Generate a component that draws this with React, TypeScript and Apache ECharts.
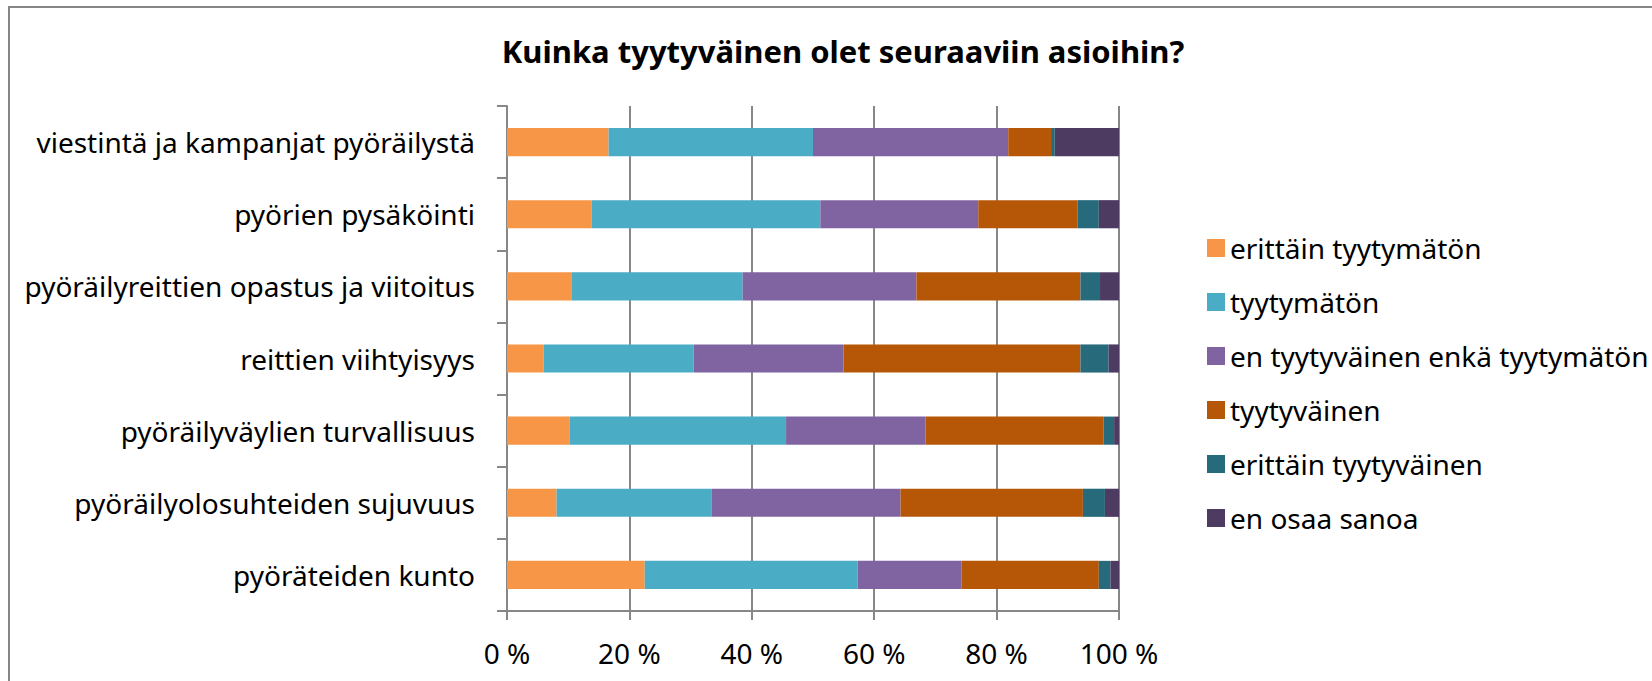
import React, { useEffect, useRef } from "react";
import * as echarts from "echarts";

const categories = [
  "viestintä ja kampanjat pyöräilystä",
  "pyörien pysäköinti",
  "pyöräilyreittien opastus ja viitoitus",
  "reittien viihtyisyys",
  "pyöräilyväylien turvallisuus",
  "pyöräilyolosuhteiden sujuvuus",
  "pyöräteiden kunto",
];

const seriesNames = [
  "erittäin tyytymätön",
  "tyytymätön",
  "en tyytyväinen enkä tyytymätön",
  "tyytyväinen",
  "erittäin tyytyväinen",
  "en osaa sanoa",
];

const erittainTyytymaton = [16.6, 13.8, 10.6, 6.0, 10.2, 8.1, 22.5];
const tyytymaton = [33.4, 37.4, 27.9, 24.5, 35.4, 25.3, 34.8];
const neutraali = [31.9, 25.8, 28.4, 24.5, 22.8, 30.9, 17.0];
const tyytyvainen = [7.0, 16.2, 26.8, 38.7, 29.1, 29.8, 22.4];
const erittainTyytyvainen = [0.6, 3.5, 3.2, 4.6, 1.7, 3.6, 1.9];
const enOsaaSanoa = [10.5, 3.3, 3.1, 1.7, 0.8, 2.3, 1.4];

const colors = ["#F79646", "#4BACC6", "#8064A2", "#B65708", "#276A7C", "#4D3B62"];

const FONT = "Noto Sans";

export default function App() {
  const ref = useRef<HTMLDivElement>(null);
  useEffect(() => {
    if (!ref.current) return;
    const chart = echarts.init(ref.current, undefined, { renderer: "svg" });
    const values = [
      erittainTyytymaton,
      tyytymaton,
      neutraali,
      tyytyvainen,
      erittainTyytyvainen,
      enOsaaSanoa,
    ];
    chart.setOption({
      animation: false,
      backgroundColor: "#ffffff",
      textStyle: { fontFamily: FONT },
      title: {
        text: "Kuinka tyytyväinen olet seuraaviin asioihin?",
        left: 838,
        top: 30,
        textAlign: "center",
        textStyle: { fontFamily: FONT, fontSize: 31, fontWeight: "bold", color: "#000" },
      },
      graphic: [
        {
          type: "rect",
          silent: true,
          z: -1,
          shape: { x: 9, y: 7, width: 1700, height: 720 },
          style: { fill: "transparent", stroke: "#868686", lineWidth: 2 },
        },
      ],
      legend: {
        orient: "vertical",
        left: 1202,
        top: 228,
        itemWidth: 18,
        itemHeight: 18,
        itemGap: 24,
        icon: "rect",
        data: seriesNames,
        textStyle: { fontFamily: FONT, fontSize: 28, color: "#000", lineHeight: 30 },
      },
      grid: { left: 507, right: 533, top: 106, bottom: 70, containLabel: false },
      xAxis: {
        type: "value",
        min: 0,
        max: 100,
        interval: 20,
        axisLine: { show: true, lineStyle: { color: "#878787", width: 2 } },
        axisTick: { show: true, length: 9, lineStyle: { color: "#878787", width: 2 } },
        splitLine: { show: true, lineStyle: { color: "#878787", width: 2 } },
        axisLabel: {
          formatter: (v: number) => `${v} %`,
          fontFamily: FONT,
          fontSize: 28,
          color: "#000",
          margin: 28,
        },
      },
      yAxis: {
        type: "category",
        inverse: true,
        data: categories,
        axisLine: { show: true, lineStyle: { color: "#878787", width: 2 } },
        axisTick: { show: true, length: 10, lineStyle: { color: "#878787", width: 2 } },
        axisLabel: { fontFamily: FONT, fontSize: 28, color: "#000", margin: 32 },
      },
      series: seriesNames.map((name, i) => ({
        name,
        type: "bar",
        stack: "total",
        barCategoryGap: "61%",
        itemStyle: { color: colors[i] },
        data: values[i],
      })),
    });
    return () => chart.dispose();
  }, []);
  return (
    <div
      ref={ref}
      style={{ position: "fixed", left: 0, top: 0, width: 1652, height: 681 }}
    />
  );
}
